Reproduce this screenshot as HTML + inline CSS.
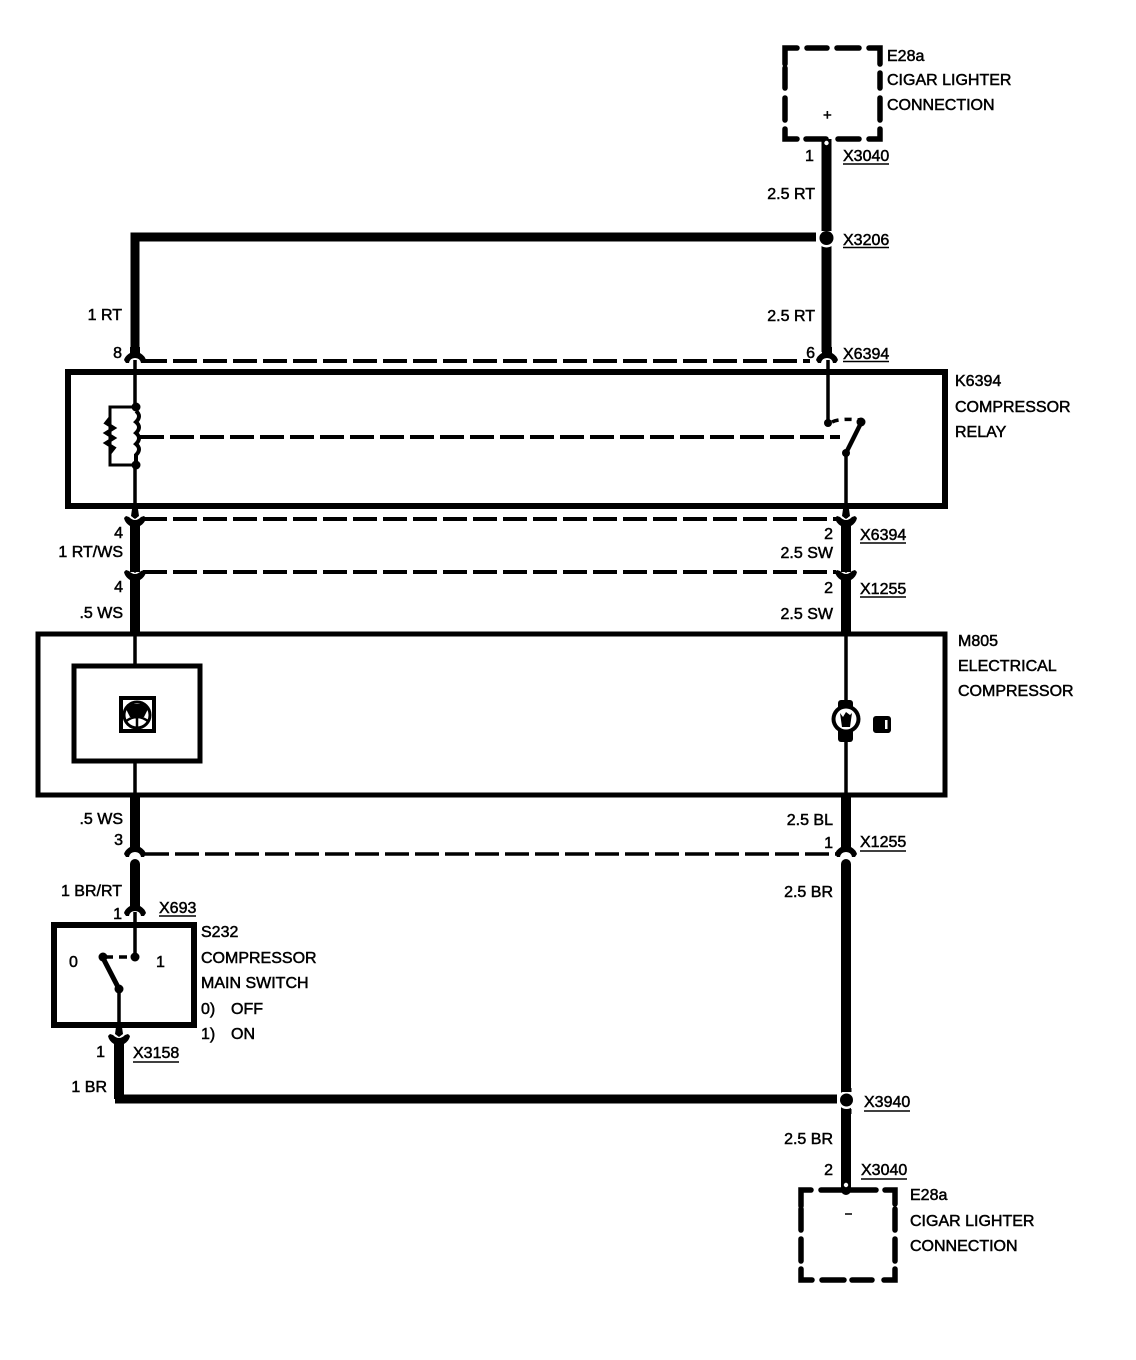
<!DOCTYPE html>
<html><head><meta charset="utf-8"><style>
html,body{margin:0;padding:0;background:#fff;width:1136px;height:1360px;overflow:hidden}
svg{display:block}
text{font-family:"Liberation Sans",sans-serif;font-size:16px;fill:#000;stroke:#000;stroke-width:.5}
.e{text-anchor:end}
</style></head><body>
<svg width="1136" height="1360" viewBox="0 0 1136 1360" xmlns="http://www.w3.org/2000/svg">
<defs>
<path id="a" d="M-5,-14 L-5,-8 Q-10,-5 -11,-1 L-9,2 L-6,2 Q-5,-3 0,-3 Q5,-3 6,2 L9,2 L11,-1 Q10,-5 5,-8 L5,-14 Z"/>
<path id="b" d="M-5,14 L-5,7 Q-10,4 -11,-1 L-9,-3 L-6,-2 Q-3,1 0,1 Q3,1 6,-2 L9,-3 L11,-1 Q10,4 5,7 L5,14 Z M-4,-3 L-3,-10 L3,-10 L4,-3 L0,0 Z"/>
</defs>
<g fill="none" stroke="#000" stroke-linecap="butt">
<!-- top dashed box -->
<g stroke-width="5.5" stroke-linecap="round">
<path d="M785,64 V48 H797 M807,48 H827 M837,48 H859 M869,48 H880 V64 M880,73 V88 M880,98 V120 M880,129 V139 H869 M859,139 H838 M826,139 H806 M797,139 H785 V129 M785,120 V98 M785,88 V68"/>
<!-- bottom dashed box -->
<path d="M801,1206 V1190 H811 M821,1190 H876 M885,1190 H895 V1204 M895,1209 V1230 M895,1239 V1261 M895,1269 V1280 H884 M872,1280 H852 M844,1280 H822 M812,1280 H801 V1269 M801,1261 V1239 M801,1230 V1209"/>
</g>
<!-- thick wires -->
<path stroke-width="10" d="M826.500,139 V352"/>
<path stroke-width="9" d="M135,350 V237 H816"/>
<path stroke-width="10" d="M135,530 V572 M846,530 V572 M135,586 V633 M846,586 V633"/>
<path stroke-width="10" d="M135,795 V846 M846,795 V846"/>
<path stroke-width="10" stroke-linecap="round" d="M135,864 V902 M846,864 V1190"/>
<path stroke-width="10" d="M119,1045 V1099"/>
<path stroke-width="9" d="M115,1099 H837"/>
<!-- thin wires -->
<path stroke-width="3.5" d="M135,360 V407 M135,465 V518 M828,360 V423 M846,453 V518 M135,633 V666 M135,761 V795 M846,633 V795 M135,912 V957 M119,989 V1032"/>
<!-- boxes -->
<path stroke-width="6" d="M68,372 H945 V506 H68 Z"/>
<path stroke-width="5" d="M38,634 H945 V795 H38 Z"/>
<path stroke-width="5" d="M74,666 H200 V761 H74 Z"/>
<path stroke-width="6" d="M54,925 H194 V1025 H54 Z"/>
<!-- dashed links -->
<path stroke-width="4" stroke-dasharray="24 6" d="M143,361 H810"/>
<path stroke-width="4" stroke-dasharray="24 6" d="M143,519 H836"/>
<path stroke-width="4" stroke-dasharray="24 6" d="M143,572 H836"/>
<path stroke-width="3.500" stroke-dasharray="24 6" d="M145,854 H836"/>
<path stroke-width="4" stroke-dasharray="24 6" d="M140,437 H840"/>
<!-- coil -->
<path stroke-width="3" d="M136,407 H110 V465 H136"/>
<path stroke-width="3.500" d="M110,418 L106,423 L114,428 L106,433 L114,438 L106,443 L114,448 L110,453"/>
<path stroke-width="4" d="M136,411 Q142,416 136,422 Q142,427 136,433 Q142,438 136,444 Q142,449 136,455 L136,462"/>
<!-- relay switch -->
<path stroke-width="3.500" stroke-dasharray="7 6" d="M832,422 Q840,418 860,420"/>
<path stroke-width="4.500" d="M861,423 L846,453"/>
<!-- S232 switch -->
<path stroke-width="3.500" stroke-dasharray="8 6" d="M105,957 H132"/>
<path stroke-width="5" d="M103,958 L119,989"/>
<!-- icon -->
<path stroke-width="4" d="M121,698 H154 V731 H121 Z"/>
<circle cx="137" cy="715" r="13" stroke-width="3"/>
<path stroke-width="2.500" d="M137,716 V730 M125,722 Q137,712 149,722"/>
</g>
<g fill="#000">
<use href="#a" x="135" y="361"/><use href="#a" x="827" y="361"/>
<use href="#b" x="135" y="519"/><use href="#b" x="846" y="519"/>
<use href="#b" x="135" y="573"/><use href="#b" x="846" y="573"/>
<use href="#a" x="135" y="855"/><use href="#a" x="846" y="855"/>
<use href="#a" x="135" y="914"/>
<use href="#b" x="119" y="1037"/>
</g>
<!-- junction rings -->
<circle cx="826.500" cy="238" r="9.500" fill="#fff"/>
<circle cx="846.500" cy="1100" r="9" fill="#fff"/>
<path d="M821.500,225 H831.500 V231 H821.500 Z M821.500,249 H831.500 V254 H821.500 Z M841.500,1088 H851.500 V1092 H841.500 Z M841.500,1109 H851.500 V1114 H841.500 Z" fill="#000"/>
<g fill="#000">
<circle cx="826.500" cy="238" r="7"/>
<circle cx="846.500" cy="1100" r="6.500"/>
<circle cx="136" cy="407" r="4.500"/><circle cx="136" cy="465" r="4.500"/>
<circle cx="828" cy="423" r="4"/><circle cx="861" cy="422" r="4.500"/><circle cx="846" cy="453" r="4"/>
<circle cx="135" cy="957" r="4.500"/><circle cx="103" cy="957" r="4.500"/><circle cx="119" cy="989" r="4.500"/>
<path d="M126,709 L132,704 H142 L148,709 L144,717 H130 Z"/>
<rect x="838" y="700" width="15" height="42" rx="3"/>
<circle cx="846" cy="719" r="14.500"/>
<rect x="873" y="716" width="18" height="17" rx="3"/>
</g>
<circle cx="846" cy="719" r="10.500" fill="#fff"/>
<path d="M840,713 L843,717 L846,712 L850,715 L852,713 L850,727 H842 Z" fill="#000"/>
<rect x="885" y="720" width="2.500" height="9" fill="#fff"/>
<circle cx="826.500" cy="143" r="2.200" fill="#fff"/>
<circle cx="846" cy="1185" r="2.200" fill="#fff"/>
<!-- underlines -->
<g stroke="#000" stroke-width="1.500">
<path d="M843,164 H889 M843,247.500 H889 M843,361.500 H889 M860,543 H906 M860,597 H906 M860,851 H906 M159,916 H196 M133,1062 H179 M864,1111 H910 M861,1179 H907"/>
</g>
<!-- labels -->
<text x="887" y="61">E28a</text>
<text x="887" y="85">CIGAR LIGHTER</text>
<text x="887" y="110">CONNECTION</text>
<text x="823" y="120" style="font-size:15px">+</text>
<text x="805" y="161">1</text>
<text x="843" y="161">X3040</text>
<text x="815" y="199" class="e">2.5 RT</text>
<text x="843" y="245">X3206</text>
<text x="122" y="320" class="e">1 RT</text>
<text x="815" y="321" class="e">2.5 RT</text>
<text x="122" y="358" class="e">8</text>
<text x="815" y="358" class="e">6</text>
<text x="843" y="359">X6394</text>
<text x="955" y="386">K6394</text>
<text x="955" y="412">COMPRESSOR</text>
<text x="955" y="437">RELAY</text>
<text x="123" y="538" class="e">4</text>
<text x="123" y="557" class="e">1 RT/WS</text>
<text x="833" y="539" class="e">2</text>
<text x="833" y="558" class="e">2.5 SW</text>
<text x="860" y="540">X6394</text>
<text x="123" y="592" class="e">4</text>
<text x="123" y="618" class="e">.5 WS</text>
<text x="833" y="593" class="e">2</text>
<text x="833" y="619" class="e">2.5 SW</text>
<text x="860" y="594">X1255</text>
<text x="958" y="646">M805</text>
<text x="958" y="671">ELECTRICAL</text>
<text x="958" y="696">COMPRESSOR</text>
<text x="123" y="824" class="e">.5 WS</text>
<text x="123" y="845" class="e">3</text>
<text x="833" y="825" class="e">2.5 BL</text>
<text x="833" y="848" class="e">1</text>
<text x="860" y="847">X1255</text>
<text x="833" y="897" class="e">2.5 BR</text>
<text x="122" y="896" class="e">1 BR/RT</text>
<text x="122" y="919" class="e">1</text>
<text x="159" y="913">X693</text>
<text x="201" y="937">S232</text>
<text x="201" y="963">COMPRESSOR</text>
<text x="201" y="988">MAIN SWITCH</text>
<text x="201" y="1014">0)</text><text x="231" y="1014">OFF</text>
<text x="201" y="1039">1)</text><text x="231" y="1039">ON</text>
<text x="69" y="967">0</text>
<text x="156" y="967">1</text>
<text x="105" y="1057" class="e">1</text>
<text x="133" y="1058">X3158</text>
<text x="107" y="1092" class="e">1 BR</text>
<text x="864" y="1107">X3940</text>
<text x="833" y="1144" class="e">2.5 BR</text>
<text x="833" y="1175" class="e">2</text>
<text x="861" y="1175">X3040</text>
<text x="910" y="1200">E28a</text>
<text x="910" y="1226">CIGAR LIGHTER</text>
<text x="910" y="1251">CONNECTION</text>
<path d="M845,1214 H852" stroke="#000" stroke-width="1.500"/>
</svg>
</body></html>
